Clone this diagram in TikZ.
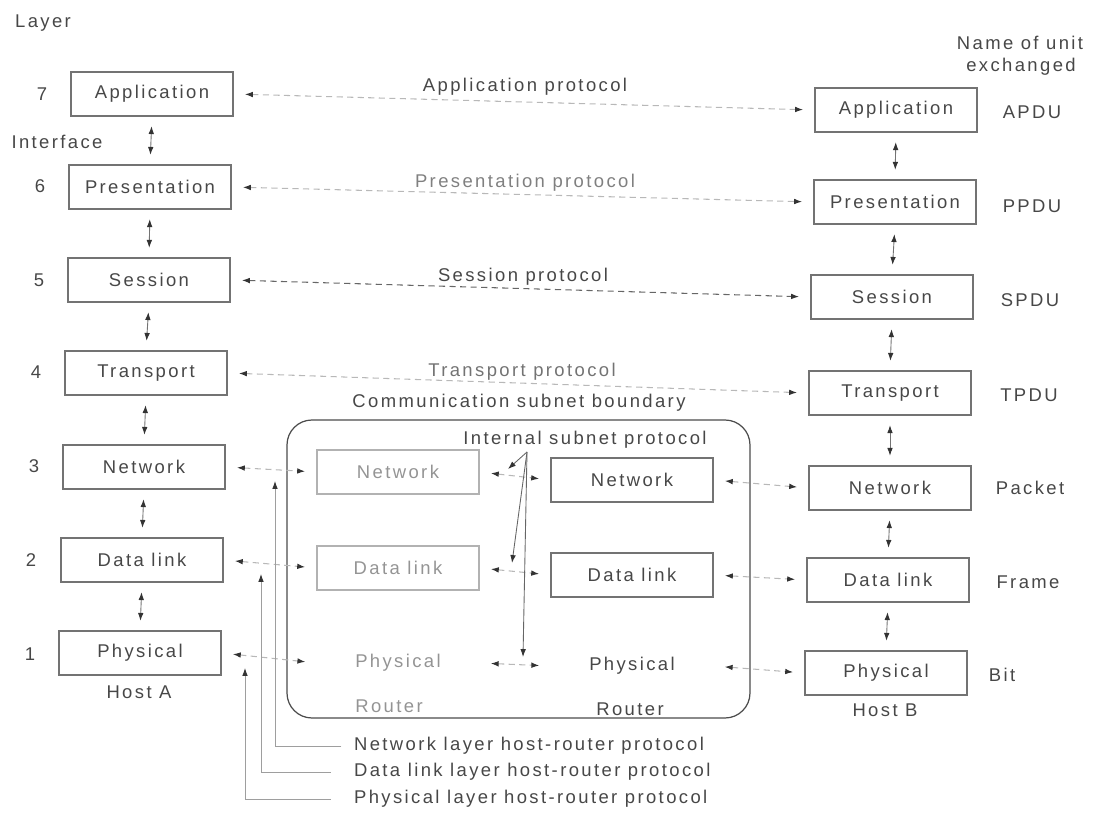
\documentclass[tikz,border=0pt]{standalone}
\usepackage{fontspec}
\setmainfont{Liberation Sans}[LetterSpace=13]
\usetikzlibrary{arrows.meta}
\tikzset{
  mytip/.tip={Latex[length=4.5pt,width=3.2pt,color=black!80]},
  lbl/.style={font=\fontsize{10.5}{12}\selectfont, text=black!72, inner sep=1pt},
  faintlbl/.style={lbl, text=black!42},
  box/.style={lbl, draw=black!55, line width=0.6pt, minimum width=3.24cm, minimum height=0.88cm, inner sep=0pt},
  rbox/.style={box, draw=black!30, text=black!42},
  ghost/.style={lbl, minimum width=3.24cm, minimum height=0.88cm, inner sep=0pt},
  iface/.style={{mytip}-{mytip}, draw=black!55, line width=0.5pt, shorten <=5.5pt, shorten >=5.5pt},
  proto/.style={{mytip}-{mytip}, draw=black!28, line width=0.6pt, dash pattern=on 3.5pt off 2.5pt, shorten <=6.5pt, shorten >=6.5pt},
  protostrong/.style={proto, draw=black!60},
  hrline/.style={-{mytip}, draw=black!38, line width=0.5pt},
  isp/.style={-{mytip}, draw=black!60, line width=0.5pt},
  boundary/.style={draw=black!70, line width=0.7pt, rounded corners=0.5cm}
}
\begin{document}
\begin{tikzpicture}[x=0.02cm,y=-0.02cm]
\useasboundingbox (0,0) rectangle (1096,820);

% headings
\node[lbl] (layer) at (43,23) {Layer};
\node[lbl] (iface) at (57,142) {Interface};
\node[lbl] (nameunit) at (1020,43) {Name of unit};
\node[lbl] (exch) at (1021,67) {exchanged};

% layer numbers
\node[lbl] (n7) at (42,94) {7};
\node[lbl] (n6) at (40,186) {6};
\node[lbl] (n5) at (39,280) {5};
\node[lbl] (n4) at (36,372) {4};
\node[lbl] (n3) at (34,466) {3};
\node[lbl] (n2) at (31,560) {2};
\node[lbl] (n1) at (30,654) {1};

% Host A
\node[box] (A7) at (152,94) {Application};
\node[box] (A6) at (150,187) {Presentation};
\node[box] (A5) at (149,280) {Session};
\node[box] (A4) at (146,373) {Transport};
\node[box] (A3) at (144,467) {Network};
\node[box] (A2) at (142,560) {Data link};
\node[box] (A1) at (140,653) {Physical};
\node[lbl] (hostA) at (139,692) {Host A};

% Host B
\node[box] (B7) at (896,110) {Application};
\node[box] (B6) at (895,202) {Presentation};
\node[box] (B5) at (892,297) {Session};
\node[box] (B4) at (890,393) {Transport};
\node[box] (B3) at (890,488) {Network};
\node[box] (B2) at (888,580) {Data link};
\node[box] (B1) at (886,673) {Physical};
\node[lbl] (hostB) at (885,710) {Host B};

% units
\node[lbl] (u7) at (1032,112) {APDU};
\node[lbl] (u6) at (1032,206) {PPDU};
\node[lbl] (u5) at (1030,300) {SPDU};
\node[lbl] (u4) at (1029,395) {TPDU};
\node[lbl] (u3) at (1030,488) {Packet};
\node[lbl] (u2) at (1028,582) {Frame};
\node[lbl] (u1) at (1002,675) {Bit};

% subnet boundary
\draw[boundary] (287,420) rectangle (750,718);
\node[lbl] (csb) at (519,403) {Communication subnet boundary};
\node[lbl] (isplbl) at (585,440) {Internal subnet protocol};

% routers
\node[rbox] (R1n) at (398,472) {Network};
\node[rbox] (R1d) at (398,568) {Data link};
\node[ghost, text=black!42] (R1p) at (398,663) {Physical};
\node[faintlbl] (R1lbl) at (389,706) {Router};
\node[box] (R2n) at (632,480) {Network};
\node[box] (R2d) at (632,575) {Data link};
\node[ghost] (R2p) at (632,666) {Physical};
\node[lbl] (R2lbl) at (630,709) {Router};

% protocol labels
\node[lbl] (pa) at (525,87) {Application protocol};
\node[lbl, text=black!50] (pp) at (525,183) {Presentation protocol};
\node[lbl] (ps) at (523,277) {Session protocol};
\node[lbl, text=black!55] (pt) at (522,372) {Transport protocol};

% interfaces
\foreach \u/\l in {A7/A6,A6/A5,A5/A4,A4/A3,A3/A2,A2/A1,B7/B6,B6/B5,B5/B4,B4/B3,B3/B2,B2/B1}
  \draw[iface] (\u.south) -- (\l.north);

% peer protocols
\draw[proto] (A7.east) -- (B7.west);
\draw[proto] (A6.east) -- (B6.west);
\draw[protostrong] (A5.east) -- (B5.west);
\draw[proto] (A4.east) -- (B4.west);

\draw[proto] (A3.east) -- (R1n.west);
\draw[proto] (R1n.east) -- (R2n.west);
\draw[proto] (R2n.east) -- (B3.west);
\draw[proto] (A2.east) -- (R1d.west);
\draw[proto] (R1d.east) -- (R2d.west);
\draw[proto] (R2d.east) -- (B2.west);
\draw[proto] (A1.east) -- (R1p.west);
\draw[proto] (R1p.east) -- (R2p.west);
\draw[proto] (R2p.east) -- (B1.west);

% internal subnet protocol pointers
\coordinate (ispA) at (527,452);
\coordinate (ispN) at (508,469);
\coordinate (ispD) at (512,563);
\coordinate (ispP) at (523,657);
\draw[isp] (ispA) -- (ispN);
\draw[isp] (ispA) -- (ispD);
\draw[isp] (ispA) -- (ispP);

% host-router protocols
\node[lbl, anchor=west] (hrN) at (352,746) {Network layer host-router protocol};
\node[lbl, anchor=west] (hrD) at (352,772) {Data link layer host-router protocol};
\node[lbl, anchor=west] (hrP) at (352,799) {Physical layer host-router protocol};
\coordinate (tipN) at (275,481);
\coordinate (tipD) at (261,574);
\coordinate (tipP) at (245,668);
\draw[hrline] ([xshift=-6pt]hrN.west) -| (tipN);
\draw[hrline] ([xshift=-12pt]hrD.west) -| (tipD);
\draw[hrline] ([xshift=-12pt]hrP.west) -| (tipP);
\end{tikzpicture}
\end{document}
